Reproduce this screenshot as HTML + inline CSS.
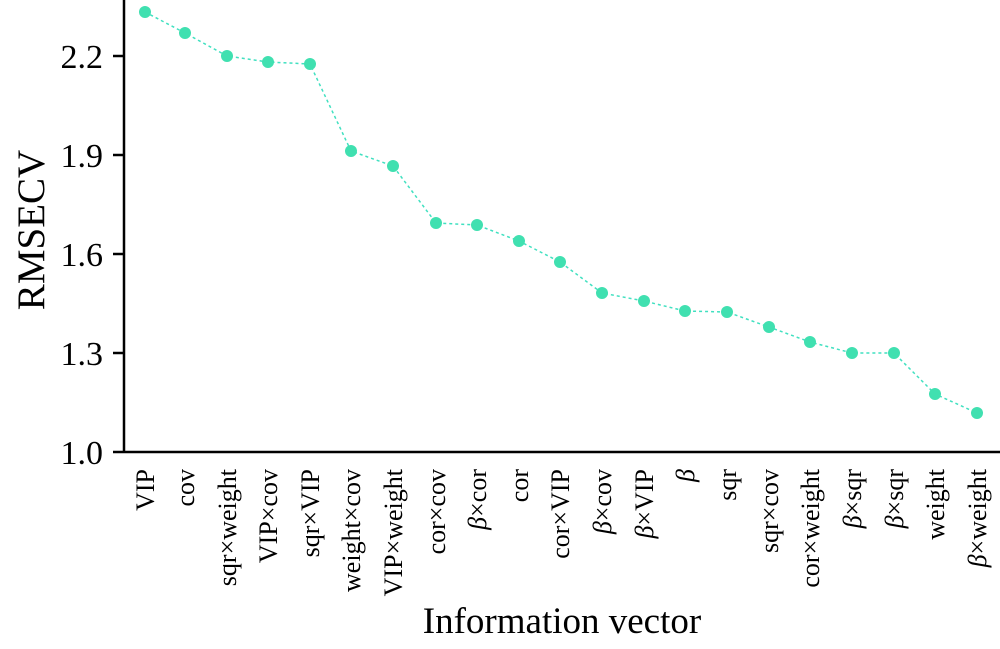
<!DOCTYPE html>
<html><head><style>body{margin:0;background:#fff}</style></head><body>
<svg width="1000" height="644" xmlns="http://www.w3.org/2000/svg" font-family="Liberation Serif, serif">
<rect width="1000" height="644" fill="#fff"/>
<line x1="124" y1="0" x2="124" y2="453" stroke="#000" stroke-width="2.5"/>
<line x1="113" y1="452" x2="1000" y2="452" stroke="#000" stroke-width="2.5"/>
<g stroke="#000" stroke-width="2.5">
<line x1="113" y1="56" x2="124" y2="56"/><line x1="113" y1="155" x2="124" y2="155"/><line x1="113" y1="254" x2="124" y2="254"/><line x1="113" y1="353" x2="124" y2="353"/>
</g>
<g font-size="34" text-anchor="end" fill="#000">
<text x="103" y="68">2.2</text><text x="103" y="167">1.9</text><text x="103" y="266">1.6</text><text x="103" y="365">1.3</text><text x="103" y="464">1.0</text>
</g>
<text transform="translate(44,230) rotate(-90)" font-size="39" text-anchor="middle">RMSECV</text>
<text x="562" y="633" font-size="37" text-anchor="middle">Information vector</text>
<polyline fill="none" stroke="#40e0c0" stroke-width="1.5" stroke-dasharray="3,3" points="145,12 185,33 227,56 268,62 310,64 351,151 393,166 436,223 477,225 519,241 560,262 602,293 644,301 685,311 727,312 769,327 810,342 852,353 894,353 935,394 977,413"/>
<g fill="#40e0b0">
<circle cx="145" cy="12" r="6"/><circle cx="185" cy="33" r="6"/><circle cx="227" cy="56" r="6"/><circle cx="268" cy="62" r="6"/><circle cx="310" cy="64" r="6"/><circle cx="351" cy="151" r="6"/><circle cx="393" cy="166" r="6"/><circle cx="436" cy="223" r="6"/><circle cx="477" cy="225" r="6"/><circle cx="519" cy="241" r="6"/><circle cx="560" cy="262" r="6"/><circle cx="602" cy="293" r="6"/><circle cx="644" cy="301" r="6"/><circle cx="685" cy="311" r="6"/><circle cx="727" cy="312" r="6"/><circle cx="769" cy="327" r="6"/><circle cx="810" cy="342" r="6"/><circle cx="852" cy="353" r="6"/><circle cx="894" cy="353" r="6"/><circle cx="935" cy="394" r="6"/><circle cx="977" cy="413" r="6"/>
</g>
<g font-size="26" text-anchor="end">
<text transform="translate(154,469) rotate(-90)">VIP</text>
<text transform="translate(194,469) rotate(-90)">cov</text>
<text transform="translate(236,469) rotate(-90)">sqr×weight</text>
<text transform="translate(277,469) rotate(-90)">VIP×cov</text>
<text transform="translate(319,469) rotate(-90)">sqr×VIP</text>
<text transform="translate(360,469) rotate(-90)">weight×cov</text>
<text transform="translate(402,469) rotate(-90)">VIP×weight</text>
<text transform="translate(445,469) rotate(-90)">cor×cov</text>
<text transform="translate(486,469) rotate(-90)"><tspan font-style="italic">β</tspan>×cor</text>
<text transform="translate(528,469) rotate(-90)">cor</text>
<text transform="translate(569,469) rotate(-90)">cor×VIP</text>
<text transform="translate(611,469) rotate(-90)"><tspan font-style="italic">β</tspan>×cov</text>
<text transform="translate(653,469) rotate(-90)"><tspan font-style="italic">β</tspan>×VIP</text>
<text transform="translate(694,469) rotate(-90)" font-style="italic">β</text>
<text transform="translate(736,469) rotate(-90)">sqr</text>
<text transform="translate(778,469) rotate(-90)">sqr×cov</text>
<text transform="translate(819,469) rotate(-90)">cor×weight</text>
<text transform="translate(861,469) rotate(-90)"><tspan font-style="italic">β</tspan>×sqr</text>
<text transform="translate(903,469) rotate(-90)"><tspan font-style="italic">β</tspan>×sqr</text>
<text transform="translate(944,469) rotate(-90)">weight</text>
<text transform="translate(986,469) rotate(-90)"><tspan font-style="italic">β</tspan>×weight</text>
</g>
</svg>
</body></html>
